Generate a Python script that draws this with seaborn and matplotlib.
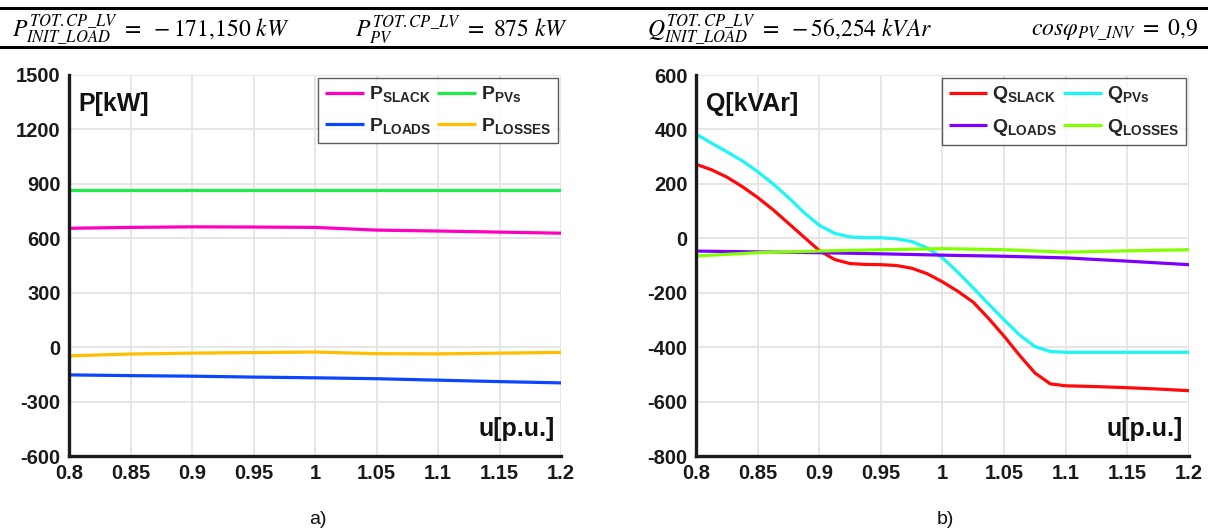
import numpy as np
import pandas as pd
import matplotlib
matplotlib.use("Agg")
import matplotlib.pyplot as plt
from matplotlib.lines import Line2D
import seaborn as sns

# Active power vs. voltage (step 0.05 p.u.)
u_p = [0.80, 0.85, 0.90, 0.95, 1.00, 1.05, 1.10, 1.15, 1.20]
p_slack = [655, 660, 663, 662, 660, 645, 640, 634, 628]
p_pvs = [868, 868, 868, 868, 868, 868, 868, 868, 868]
p_loads = [-153, -157, -160, -165, -169, -174, -182, -190, -197]
p_losses = [-48, -38, -33, -30, -27, -36, -37, -33, -29]

# Reactive power vs. voltage
u_q = [0.8, 0.8125, 0.825, 0.8375, 0.85, 0.8625, 0.875, 0.8875, 0.9, 0.9125,
       0.925, 0.9375, 0.95, 0.9625, 0.975, 0.9875, 1.0, 1.0125, 1.025, 1.0375,
       1.05, 1.0625, 1.075, 1.0875, 1.1, 1.125, 1.15, 1.175, 1.2]
q_slack = [272, 252, 225, 190, 150, 105, 55, 5, -45, -78,
           -93, -96, -97, -100, -110, -130, -160, -195, -235, -295,
           -360, -430, -495, -535, -542, -545, -549, -554, -560]
q_pvs = [383, 350, 318, 285, 245, 200, 150, 95, 48, 18,
         5, 2, 2, -2, -12, -35, -72, -125, -183, -242,
         -300, -355, -398, -416, -419, -419, -419, -419, -419]
u_q2 = [0.80, 0.85, 0.90, 0.95, 1.00, 1.05, 1.10, 1.15, 1.20]
q_loads = [-47, -50, -53, -57, -62, -66, -72, -84, -97]
q_losses = [-65, -53, -47, -42, -38, -42, -51, -46, -42]

xticks = [0.8, 0.85, 0.9, 0.95, 1.0, 1.05, 1.1, 1.15, 1.2]
xticklabels = ["0.8", "0.85", "0.9", "0.95", "1", "1.05", "1.1", "1.15", "1.2"]

sns.set_theme(style="white")
plt.rcParams["font.family"] = ["Liberation Sans", "DejaVu Sans"]
plt.rcParams["mathtext.fontset"] = "custom"
plt.rcParams["mathtext.rm"] = "Liberation Sans:bold"
plt.rcParams["mathtext.bf"] = "Liberation Sans:bold"
plt.rcParams["mathtext.it"] = "Liberation Sans:bold"

W, H = 1208, 529
fig = plt.figure(figsize=(W / 100, H / 100), dpi=100)
ax1 = fig.add_axes([69 / W, 1 - 456 / H, 492 / W, 381 / H])
ax2 = fig.add_axes([696 / W, 1 - 456 / H, 493 / W, 381 / H])

LW = 2.3


def series(ax, x, y, color, label):
    df = pd.DataFrame({"u": x, "v": y})
    sns.lineplot(data=df, x="u", y="v", ax=ax, color=color, linewidth=LW,
                 label=label, legend=False, solid_capstyle="butt")


series(ax1, u_p, p_slack, "#FF00C0", r"P$_{\mathrm{SLACK}}$")
series(ax1, u_p, p_pvs, "#1EEB4B", r"P$_{\mathrm{PVs}}$")
series(ax1, u_p, p_loads, "#0A46FF", r"P$_{\mathrm{LOADS}}$")
series(ax1, u_p, p_losses, "#FFBE00", r"P$_{\mathrm{LOSSES}}$")

series(ax2, u_q, q_slack, "#FF0A0A", r"Q$_{\mathrm{SLACK}}$")
series(ax2, u_q, q_pvs, "#1EF5F5", r"Q$_{\mathrm{PVs}}$")
series(ax2, u_q2, q_loads, "#7D00FF", r"Q$_{\mathrm{LOADS}}$")
series(ax2, u_q2, q_losses, "#82FF00", r"Q$_{\mathrm{LOSSES}}$")


def style(ax, yticks, ylabel):
    ax.set_xlim(0.8, 1.2)
    ax.set_ylim(yticks[0], yticks[-1])
    ax.set_xticks(xticks)
    ax.set_xticklabels(xticklabels)
    ax.set_yticks(yticks)
    ax.set_yticklabels([str(t) for t in yticks])
    ax.set_xlabel("")
    ax.set_ylabel("")
    ax.grid(True, color="#E4E4E4", linewidth=1.3)
    ax.set_axisbelow(True)
    for s in ("top", "right"):
        ax.spines[s].set_visible(False)
    for s in ("left", "bottom"):
        ax.spines[s].set_color("#1A1A1A")
        ax.spines[s].set_linewidth(2.4)
    ax.tick_params(axis="both", direction="in", length=4, width=1.6,
                   colors="#1A1A1A", labelsize=14.5, pad=6)
    for lab in ax.get_xticklabels() + ax.get_yticklabels():
        lab.set_fontweight("bold")
        lab.set_color("#1A1A1A")
    ax.text(0.02, 0.955, ylabel, transform=ax.transAxes, fontsize=18,
            fontweight="bold", ha="left", va="top", color="#111111")
    ax.text(0.988, 0.04, "u[p.u.]", transform=ax.transAxes, fontsize=18,
            fontweight="bold", ha="right", va="bottom", color="#111111")
    # two-column legend, filled row by row
    h, l = ax.get_legend_handles_labels()
    order = [0, 2, 1, 3]
    leg = ax.legend([h[i] for i in order], [l[i] for i in order], ncol=2,
                    loc="upper right", bbox_to_anchor=(0.993, 0.993),
                    frameon=True, fancybox=False, edgecolor="#333333",
                    prop={"weight": "bold", "size": 14}, handlelength=2.0,
                    handletextpad=0.25, columnspacing=0.3, labelspacing=0.6,
                    borderpad=0.35, borderaxespad=0.0)
    leg.get_frame().set_linewidth(1.0)


style(ax1, [-600, -300, 0, 300, 600, 900, 1200, 1500], "P[kW]")
style(ax2, [-800, -600, -400, -200, 0, 200, 400, 600], "Q[kVAr]")

# Panel captions
fig.text(318 / W, 1 - 520 / H, "a)", fontsize=14, ha="center", va="center",
         color="#111111")
fig.text(945 / W, 1 - 520 / H, "b)", fontsize=14, ha="center", va="center",
         color="#111111")

# Header table with operating conditions
for yy in (8, 47):
    fig.add_artist(Line2D([0, 1], [1 - yy / H, 1 - yy / H],
                          transform=fig.transFigure, color="black",
                          linewidth=2.2))
hy = 1 - 30 / H
hkw = dict(fontsize=17, va="center", color="black", math_fontfamily="stix")
fig.text(12 / W, hy, r"$P_{INIT\_LOAD}^{TOT.CP\_LV}\ =\ -171{,}150\ kW$", ha="left", **hkw)
fig.text(355 / W, hy, r"$P_{PV}^{TOT.CP\_LV}\ =\ 875\ kW$", ha="left", **hkw)
fig.text(647 / W, hy, r"$Q_{INIT\_LOAD}^{TOT.CP\_LV}\ =\ -56{,}254\ kVAr$", ha="left", **hkw)
fig.text(1198 / W, hy, r"$cos\varphi_{PV\_INV}\ =\ 0{,}9$", ha="right", **hkw)

fig.savefig("out.png", dpi=100)
